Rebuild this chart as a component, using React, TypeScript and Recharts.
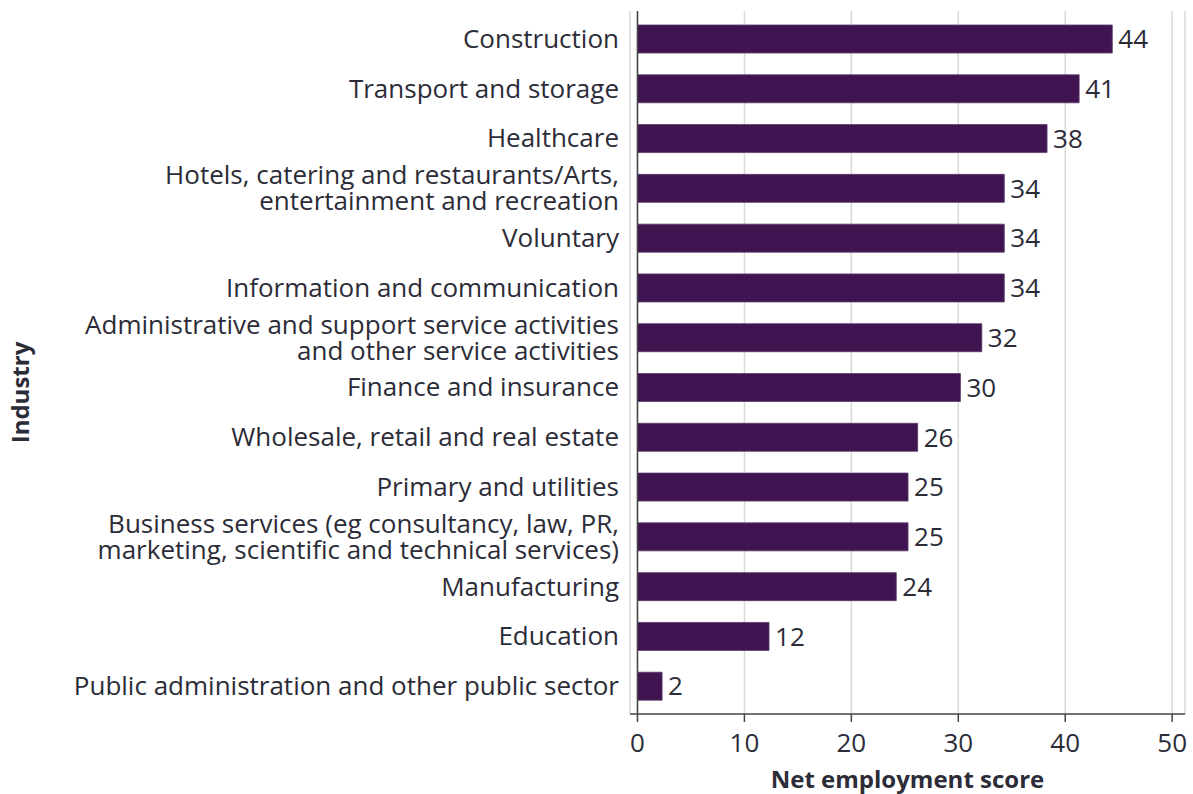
import { BarChart, Bar, XAxis, YAxis, CartesianGrid, ReferenceLine, LabelList } from 'recharts'

const industries: string[][] = [
  ['Construction'],
  ['Transport and storage'],
  ['Healthcare'],
  ['Hotels, catering and restaurants/Arts,', 'entertainment and recreation'],
  ['Voluntary'],
  ['Information and communication'],
  ['Administrative and support service activities', 'and other service activities'],
  ['Finance and insurance'],
  ['Wholesale, retail and real estate'],
  ['Primary and utilities'],
  ['Business services (eg consultancy, law, PR,', 'marketing, scientific and technical services)'],
  ['Manufacturing'],
  ['Education'],
  ['Public administration and other public sector'],
]

const scores = [44.4, 41.3, 38.3, 34.3, 34.3, 34.3, 32.2, 30.2, 26.2, 25.3, 25.3, 24.2, 12.3, 2.3]

const xTicks = [0, 10, 20, 30, 40, 50]

const data = industries.map((lines, i) => ({ name: lines.join('\n'), score: scores[i] }))

const FONT = '"Open Sans", sans-serif'
const TEXT = '#2c2c38'
const BAR = '#3f1450'

function IndustryTick(props: any) {
  const { x, y, payload } = props
  const lines: string[] = String(payload.value).split('\n')
  const lineH = 26
  const start = -((lines.length - 1) * lineH) / 2
  return (
    <text x={x} y={y} textAnchor="end" fill={TEXT} fontFamily={FONT} fontSize={26}>
      {lines.map((l, i) => (
        <tspan key={i} x={x} dy={i === 0 ? start + 9 : lineH}>
          {l}
        </tspan>
      ))}
    </text>
  )
}

function IndustryLabel(props: any) {
  const { viewBox } = props
  const cx = viewBox.x + 19
  const cy = viewBox.y + viewBox.height / 2 + 30
  return (
    <text
      x={cx}
      y={cy}
      transform={`rotate(-90, ${cx}, ${cy})`}
      textAnchor="middle"
      dominantBaseline="central"
      fill={TEXT}
      fontFamily={FONT}
      fontSize={24}
      fontWeight={700}
    >
      Industry
    </text>
  )
}

export default function App() {
  return (
    <div style={{ position: 'absolute', left: 0, top: 0, background: '#fff' }}>
      <BarChart
        width={1193}
        height={794}
        data={data}
        layout="vertical"
        margin={{ top: 11, right: 8, bottom: 0, left: 0 }}
      >
        <CartesianGrid horizontal={false} stroke="#d9d9d9" strokeWidth={1.5} />
        <XAxis
          type="number"
          domain={[-0.7, 51.2]}
          ticks={xTicks}
          allowDataOverflow
          tick={{ fill: TEXT, fontFamily: FONT, fontSize: 26 }}
          axisLine={{ stroke: '#444', strokeWidth: 1.5 }}
          tickLine={{ stroke: '#444', strokeWidth: 1.5 }}
          tickSize={8}
          tickMargin={12}
          height={80}
          label={{
            value: 'Net employment score',
            position: 'insideBottom',
            offset: 6,
            fill: TEXT,
            fontFamily: FONT,
            fontSize: 24,
            fontWeight: 700,
          }}
        />
        <YAxis
          type="category"
          dataKey="name"
          width={630}
          axisLine={false}
          tickLine={false}
          tickMargin={5}
          interval={0}
          padding={{ top: 3, bottom: 3 }}
          tick={<IndustryTick />}
          label={<IndustryLabel />}
        />
        <ReferenceLine x={0} stroke="#444" strokeWidth={1.5} />
        <Bar dataKey="score" fill={BAR} stroke="#5b3a6b" strokeWidth={0.8} barSize={28} isAnimationActive={false}>
          <LabelList
            dataKey="score"
            position="right"
            offset={6}
            formatter={(v: any) => Math.round(Number(v))}
            fill={TEXT}
            fontFamily={FONT}
            fontSize={26}
          />
        </Bar>
      </BarChart>
    </div>
  )
}
